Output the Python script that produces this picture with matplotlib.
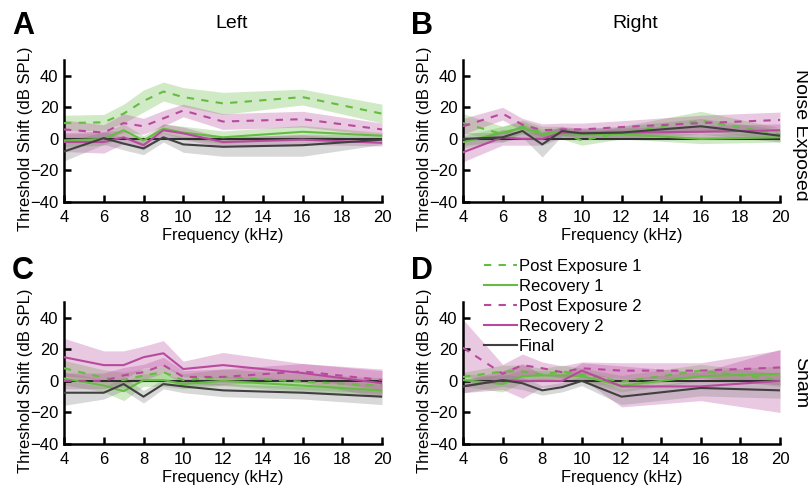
import numpy as np
import matplotlib
matplotlib.use("Agg")
import matplotlib.pyplot as plt

plt.rcParams["font.family"] = ["Liberation Sans", "DejaVu Sans"]
plt.rcParams["font.size"] = 12

freqs = [4, 6, 7, 8, 9, 10, 12, 16, 20]

series_names = ["Post Exposure 1", "Recovery 1", "Post Exposure 2", "Recovery 2", "Final"]

# panel A - noise exposed, left ear
noise_left_pe1 = [10, 10.5, 16, 24, 30, 26.5, 22.5, 26.5, 16]
noise_left_pe1_err = [5, 5, 6, 7, 6, 6, 7, 5, 6]
noise_left_rec1 = [-1, 0, 5.5, -1, 6.5, 4, 1, 4.5, 2]
noise_left_rec1_err = [4, 4, 4, 3, 3, 4, 4, 4, 2]
noise_left_pe2 = [6, 4, 10, 8, 13, 18, 11, 12.5, 6]
noise_left_pe2_err = [6, 5, 6, 5, 5, 4, 5, 5, 4]
noise_left_rec2 = [-2, -2, 1, -4, 5.5, 3.5, -2, -0.5, -2.5]
noise_left_rec2_err = [6, 7, 4, 3, 4, 4, 3, 3, 2]
noise_left_final = [-8, 0.5, -3, -6, 1, -3.5, -5, -4, -0.5]
noise_left_final_err = [6, 4, 4, 4, 3, 5, 6, 7, 3]

# panel B - noise exposed, right ear
noise_right_pe1 = [10, 3, 8, 4, 4, -1, 4, 11.5, 3]
noise_right_pe1_err = [6, 5, 4, 4, 4, 3, 4, 6, 4]
noise_right_rec1 = [-2, 4, 7, 3, 4, 3, 3, 0, 1]
noise_right_rec1_err = [4, 4, 4, 3, 3, 3, 3, 3, 3]
noise_right_pe2 = [8, 16, 9, 5.5, 6, 6, 7.5, 10, 12]
noise_right_pe2_err = [5, 4, 4, 4, 4, 4, 4, 5, 5]
noise_right_rec2 = [-8.5, 1, 0, 0, 4, 4, 4, 4.5, 5.5]
noise_right_rec2_err = [6, 5, 4, 4, 3, 3, 3, 4, 4]
noise_right_final = [0, 1, 5, -3.5, 5, 3.5, 4, 8, 2]
noise_right_final_err = [4, 3, 4, 8, 3, 3, 4, 5, 4]

# panel C - sham, left ear
sham_left_pe1 = [8, 2, 0.5, 3.5, 5.5, 0.5, 2.5, -0.5, -3]
sham_left_pe1_err = [5, 5, 5, 4, 4, 4, 5, 5, 5]
sham_left_rec1 = [1.5, -3, -6.5, 0.5, 0.5, -2, 0, -3, -6]
sham_left_rec1_err = [4, 4, 6, 4, 4, 3, 3, 4, 4]
sham_left_pe2 = [0, 0, 3.5, 5.5, 10, 2.5, 2.5, 6, 0.5]
sham_left_pe2_err = [5, 5, 5, 5, 5, 4, 5, 5, 6]
sham_left_rec2 = [15, 10, 10, 15, 17.5, 7.5, 10, 5, -1.5]
sham_left_rec2_err = [12, 9, 9, 7, 8, 5, 8, 6, 9]
sham_left_final = [-7.5, -7.5, -2, -10, -2, -3.5, -6, -7.5, -10]
sham_left_final_err = [8, 4, 4, 4, 3, 4, 4, 4, 5]

# panel D - sham, right ear
sham_right_pe1 = [2.5, 6, 6, 4, 6, 4, -0.5, 6.5, 0.5]
sham_right_pe1_err = [3, 4, 4, 4, 4, 4, 4, 4, 4]
sham_right_rec1 = [0.5, -2, 3, 3.5, 3.5, 3, -3, 3, 4.5]
sham_right_rec1_err = [4, 5, 4, 3, 3, 3, 4, 3, 5]
sham_right_pe2 = [21, 4.5, 10, 8, 5.5, 8, 6.5, 6.5, 8.5]
sham_right_pe2_err = [18, 6, 7, 4, 4, 4, 5, 5, 11]
sham_right_rec2 = [-3.5, 0.5, 0, 0, 0, 6.5, -3.5, -3.5, 0]
sham_right_rec2_err = [4, 6, 11, 4, 4, 5, 13, 9, 20]
sham_right_final = [-3.5, 0.5, -1.5, -6, -4, 0, -10, -4.5, -6]
sham_right_final_err = [4, 4, 4, 3, 3, 3, 5, 5, 5]

GREEN = "#66bb44"
MAGENTA = "#b84a9e"
GRAY = "#404040"
colors = [GREEN, GREEN, MAGENTA, MAGENTA, GRAY]
styles = [(0, (3.5, 3.5)), "-", (0, (3.5, 3.5)), "-", "-"]
fills = [GREEN, GREEN, MAGENTA, MAGENTA, "#808080"]


def draw_panel(ax, means, errs):
    x = np.array(freqs)
    for m, e, fc in zip(means, errs, fills):
        m = np.array(m, dtype=float)
        e = np.array(e, dtype=float)
        ax.fill_between(x, m - e, m + e, color=fc, alpha=0.3, lw=0, zorder=1)
    ax.axhline(0, color="#303030", lw=1.5, zorder=2)
    for m, c, ls, name in zip(means, colors, styles, series_names):
        ax.plot(x, m, color=c, ls=ls, lw=1.5, label=name, zorder=3)
    ax.set_xlim(4, 20)
    ax.set_ylim(-40, 50)
    ax.set_xticks(range(4, 21, 2))
    ax.set_yticks([-40, -20, 0, 20, 40])
    for s in ["top", "right"]:
        ax.spines[s].set_visible(False)
    for s in ["left", "bottom"]:
        ax.spines[s].set_linewidth(1.8)
    ax.tick_params(direction="in", length=5, width=1.8, labelsize=12)
    ax.tick_params(axis="x", pad=6)
    ax.tick_params(axis="y", pad=4)
    ax.set_xlabel("Frequency (kHz)", fontsize=11.8, labelpad=2)
    ax.set_ylabel("Threshold Shift (dB SPL)", fontsize=12)
    # label is centred on the zero line, as in the original figure
    ax.yaxis.set_label_coords(-0.098, 0.444)


fig = plt.figure(figsize=(8.08, 4.9), dpi=100)
W, H = 808, 490


def add_ax(l, r, t, b):
    return fig.add_axes([l / W, 1 - b / H, (r - l) / W, (b - t) / H])


axA = add_ax(64, 382, 60, 202)
axB = add_ax(463, 780, 60, 202)
axC = add_ax(64, 382, 302, 444)
axD = add_ax(463, 780, 302, 444)

draw_panel(axA,
           [noise_left_pe1, noise_left_rec1, noise_left_pe2, noise_left_rec2, noise_left_final],
           [noise_left_pe1_err, noise_left_rec1_err, noise_left_pe2_err, noise_left_rec2_err, noise_left_final_err])
draw_panel(axB,
           [noise_right_pe1, noise_right_rec1, noise_right_pe2, noise_right_rec2, noise_right_final],
           [noise_right_pe1_err, noise_right_rec1_err, noise_right_pe2_err, noise_right_rec2_err, noise_right_final_err])
draw_panel(axC,
           [sham_left_pe1, sham_left_rec1, sham_left_pe2, sham_left_rec2, sham_left_final],
           [sham_left_pe1_err, sham_left_rec1_err, sham_left_pe2_err, sham_left_rec2_err, sham_left_final_err])
draw_panel(axD,
           [sham_right_pe1, sham_right_rec1, sham_right_pe2, sham_right_rec2, sham_right_final],
           [sham_right_pe1_err, sham_right_rec1_err, sham_right_pe2_err, sham_right_rec2_err, sham_right_final_err])

handles, labels = axD.get_legend_handles_labels()
fig.legend(handles, labels, loc="upper left", bbox_to_anchor=(484 / W, 1 - 259 / H),
           frameon=False, fontsize=12, handlelength=2.0, handletextpad=0.1,
           labelspacing=0.3, borderpad=0, borderaxespad=0)

for letter, x, y in [("A", 12, 26), ("B", 411, 26), ("C", 12, 271), ("D", 411, 271)]:
    fig.text(x / W, 1 - y / H, letter, fontsize=22, fontweight="bold", va="center", ha="left")

fig.text(232 / W, 1 - 23 / H, "Left", fontsize=14, ha="center", va="center")
fig.text(635 / W, 1 - 23 / H, "Right", fontsize=14, ha="center", va="center")
fig.text(801 / W, 1 - 135 / H, "Noise Exposed", fontsize=14, rotation=270, ha="center", va="center")
fig.text(801 / W, 1 - 383 / H, "Sham", fontsize=14, rotation=270, ha="center", va="center")

fig.savefig("out.png", dpi=100)
